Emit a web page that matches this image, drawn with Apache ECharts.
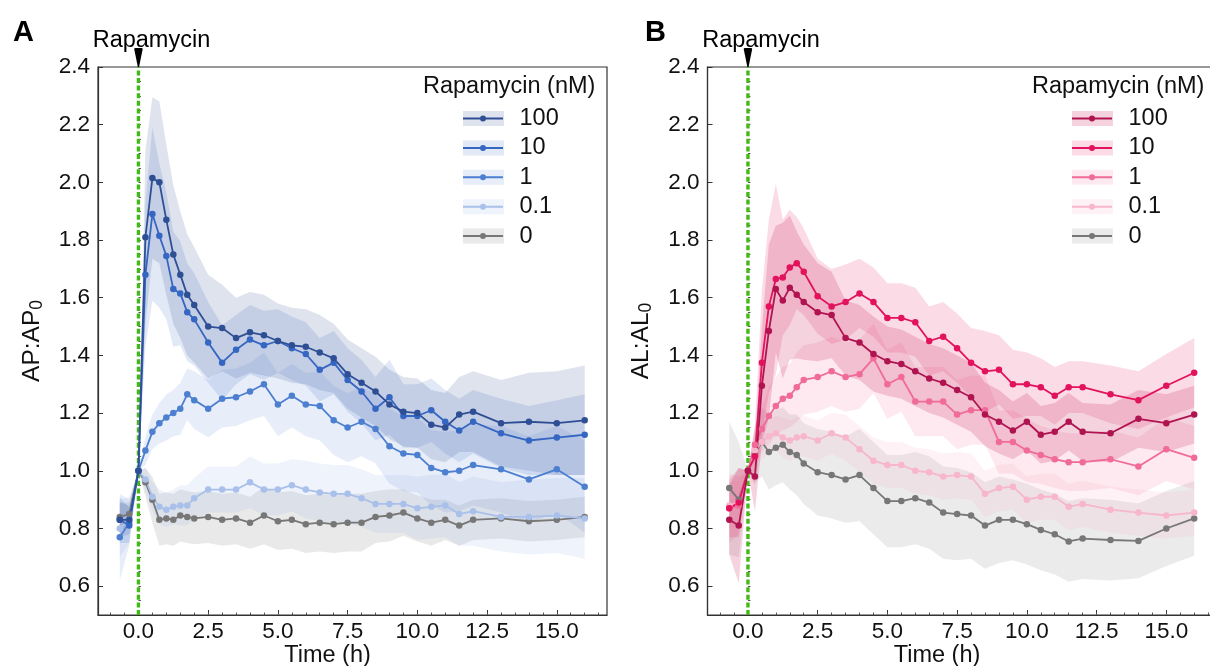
<!DOCTYPE html>
<html><head><meta charset="utf-8">
<script src="https://cdn.jsdelivr.net/npm/echarts@6/dist/echarts.min.js"></script>
<style>html,body{margin:0;padding:0;background:#fff}#c{width:1210px;height:666px}</style>
</head><body><div id="c"></div>
<script>
// ---------------- DATA ----------------
const time = [-0.67,-0.33,0,0.25,0.5,0.75,1,1.25,1.5,1.75,2,2.5,3,3.5,4,4.5,5,5.5,6,6.5,7,7.5,8,8.5,9,9.5,10,10.5,11,11.5,12,13,14,15,16];
const doses = ['100','10','1','0.1','0'];

// Panel A: AP:AP0 means
const apMean100 = [0.83,0.83,1.00,1.81,2.015,2.00,1.87,1.75,1.68,1.61,1.575,1.50,1.495,1.46,1.48,1.47,1.45,1.435,1.43,1.41,1.39,1.335,1.305,1.275,1.23,1.205,1.20,1.16,1.15,1.195,1.205,1.165,1.17,1.165,1.175];
const apMean10  = [0.83,0.81,1.00,1.68,1.89,1.815,1.745,1.63,1.615,1.55,1.525,1.445,1.375,1.42,1.455,1.435,1.45,1.425,1.405,1.35,1.375,1.315,1.275,1.215,1.255,1.19,1.19,1.21,1.17,1.14,1.17,1.13,1.105,1.115,1.125];
const apMean1   = [0.77,0.82,1.00,1.07,1.135,1.165,1.185,1.20,1.215,1.265,1.245,1.215,1.25,1.255,1.275,1.30,1.23,1.26,1.23,1.225,1.175,1.15,1.17,1.145,1.085,1.06,1.055,1.01,0.995,1.0,1.02,1.005,0.97,1.005,0.945];
const apMean01  = [0.80,0.83,1.00,0.97,0.91,0.875,0.865,0.875,0.88,0.88,0.905,0.935,0.935,0.935,0.96,0.935,0.935,0.95,0.935,0.925,0.92,0.92,0.905,0.885,0.885,0.885,0.87,0.875,0.88,0.85,0.86,0.84,0.84,0.845,0.835];
const apMean0   = [0.84,0.85,1.00,0.96,0.90,0.83,0.835,0.83,0.845,0.84,0.835,0.84,0.83,0.835,0.82,0.845,0.825,0.83,0.815,0.82,0.815,0.82,0.82,0.84,0.845,0.855,0.835,0.82,0.83,0.81,0.83,0.835,0.825,0.83,0.84];
// Panel A: band half-widths
const apCi100 = [0.06,0.05,0,0.3,0.28,0.28,0.26,0.24,0.22,0.21,0.2,0.18,0.15,0.14,0.14,0.14,0.13,0.13,0.13,0.13,0.12,0.12,0.12,0.12,0.12,0.12,0.12,0.12,0.12,0.13,0.14,0.15,0.17,0.18,0.19];
const apCi10  = [0.08,0.06,0,0.25,0.3,0.25,0.22,0.2,0.18,0.17,0.16,0.14,0.13,0.12,0.12,0.12,0.11,0.11,0.11,0.11,0.11,0.11,0.11,0.11,0.13,0.11,0.11,0.11,0.11,0.11,0.11,0.12,0.12,0.13,0.14];
const apCi1   = [0.15,0.08,0,0.05,0.06,0.07,0.08,0.08,0.09,0.09,0.1,0.1,0.1,0.1,0.1,0.11,0.11,0.11,0.11,0.12,0.12,0.12,0.12,0.12,0.13,0.13,0.13,0.13,0.14,0.14,0.14,0.15,0.15,0.15,0.16];
const apCi01  = [0.1,0.08,0,0.04,0.05,0.06,0.06,0.06,0.07,0.07,0.07,0.08,0.08,0.08,0.09,0.09,0.09,0.09,0.1,0.1,0.1,0.1,0.1,0.1,0.1,0.1,0.11,0.11,0.11,0.11,0.12,0.12,0.13,0.13,0.14];
const apCi0   = [0.05,0.04,0,0.05,0.08,0.09,0.09,0.09,0.09,0.09,0.09,0.09,0.09,0.09,0.09,0.1,0.1,0.1,0.1,0.1,0.1,0.1,0.1,0.09,0.09,0.08,0.08,0.08,0.07,0.07,0.07,0.07,0.07,0.07,0.07];

// Panel B: AL:AL0 means
const alMean100 = [0.83,0.81,1.00,0.98,1.295,1.485,1.63,1.59,1.635,1.61,1.585,1.55,1.54,1.46,1.445,1.405,1.38,1.37,1.345,1.32,1.305,1.28,1.255,1.195,1.17,1.14,1.17,1.125,1.135,1.17,1.135,1.13,1.18,1.165,1.195];
const alMean10  = [0.87,0.89,1.00,1.05,1.375,1.57,1.665,1.67,1.705,1.72,1.69,1.605,1.57,1.585,1.615,1.585,1.53,1.53,1.515,1.45,1.465,1.425,1.375,1.345,1.35,1.30,1.30,1.29,1.26,1.29,1.29,1.265,1.245,1.295,1.34];
const alMean1   = [0.87,0.88,1.00,1.09,1.145,1.19,1.225,1.25,1.26,1.29,1.315,1.325,1.345,1.325,1.335,1.39,1.30,1.325,1.24,1.24,1.24,1.195,1.21,1.21,1.10,1.10,1.07,1.055,1.04,1.03,1.03,1.04,1.015,1.075,1.045];
const alMean01  = [0.88,0.89,1.00,1.07,1.10,1.12,1.13,1.115,1.105,1.115,1.12,1.105,1.13,1.115,1.075,1.035,1.02,1.02,1.00,0.995,0.98,0.985,0.98,0.92,0.94,0.945,0.90,0.91,0.91,0.875,0.885,0.865,0.855,0.845,0.855];
const alMean0   = [0.94,0.90,1.00,1.06,1.10,1.065,1.08,1.09,1.065,1.055,1.025,0.995,0.985,0.97,0.985,0.94,0.895,0.895,0.905,0.89,0.855,0.85,0.845,0.81,0.83,0.83,0.815,0.795,0.78,0.755,0.765,0.76,0.757,0.80,0.835];
// Panel B: band half-widths
const alCi100 = [0.12,0.2,0,0.12,0.2,0.3,0.22,0.27,0.25,0.22,0.2,0.17,0.15,0.13,0.13,0.13,0.12,0.12,0.12,0.12,0.12,0.12,0.12,0.11,0.11,0.1,0.1,0.1,0.1,0.1,0.1,0.1,0.1,0.1,0.1];
const alCi10  = [0.1,0.12,0,0.1,0.25,0.3,0.33,0.2,0.2,0.16,0.15,0.13,0.13,0.13,0.12,0.12,0.12,0.12,0.12,0.12,0.12,0.12,0.12,0.14,0.12,0.12,0.11,0.1,0.1,0.09,0.09,0.1,0.1,0.11,0.12];
const alCi1   = [0.12,0.1,0,0.06,0.08,0.1,0.1,0.11,0.11,0.12,0.12,0.12,0.12,0.12,0.12,0.12,0.12,0.12,0.12,0.12,0.12,0.12,0.12,0.12,0.11,0.11,0.11,0.1,0.1,0.1,0.1,0.1,0.1,0.11,0.11];
const alCi01  = [0.08,0.08,0,0.05,0.06,0.06,0.06,0.07,0.07,0.07,0.07,0.07,0.07,0.08,0.08,0.08,0.08,0.08,0.08,0.08,0.08,0.08,0.08,0.08,0.08,0.08,0.08,0.08,0.08,0.08,0.08,0.08,0.08,0.08,0.08];
const alCi0   = [0.23,0.2,0,0.1,0.12,0.13,0.13,0.13,0.13,0.14,0.14,0.15,0.15,0.15,0.16,0.16,0.16,0.16,0.16,0.16,0.16,0.16,0.15,0.15,0.15,0.14,0.14,0.14,0.14,0.14,0.14,0.14,0.13,0.13,0.13];

// Tick labels / tick positions
const xTickLabels = [0, 2.5, 5, 7.5, 10, 12.5, 15];
const xMinorTicks = [-1,-0.5,0,0.5,1,1.5,2,2.5,3,3.5,4,4.5,5,5.5,6,6.5,7,7.5,8,8.5,9,9.5,10,10.5,11,11.5,12,12.5,13,13.5,14,14.5,15,15.5,16,16.5];
const yTickLabels = [0.6,0.8,1.0,1.2,1.4,1.6,1.8,2.0,2.2,2.4];
const yMinorTicks = [0.55,0.6,0.65,0.7,0.75,0.8,0.85,0.9,0.95,1.0,1.05,1.1,1.15,1.2,1.25,1.3,1.35,1.4,1.45,1.5,1.55,1.6,1.65,1.7,1.75,1.8,1.85,1.9,1.95,2.0,2.05,2.1,2.15,2.2,2.25,2.3,2.35];
const xRange = [-1.45, 16.8];
const yRange = [0.5, 2.4];
const treatmentTime = 0;

// ---------------- STYLE ----------------
const FONT = "'Liberation Sans', Arial, Helvetica, sans-serif";
const TXT = '#111';
const FS_TICK = 22.5, FS_TXT = 23.5;
const panels = [
  { key:'A', means:[apMean100,apMean10,apMean1,apMean01,apMean0], cis:[apCi100,apCi10,apCi1,apCi01,apCi0],
    lineColors:['#2f4f95','#3566c2','#4d7fd0','#a9c0ea','#777777'],
    bandColors:['rgba(47,79,149,0.16)','rgba(53,102,194,0.15)','rgba(77,127,208,0.13)','rgba(140,170,225,0.14)','rgba(120,120,120,0.16)'],
    yname:'{m|AP:AP}{s|0}', grid:{left:98, top:67, width:509, height:548},
    legendLeft:463, titleLeft:423, letterLeft:8 },
  { key:'B', means:[alMean100,alMean10,alMean1,alMean01,alMean0], cis:[alCi100,alCi10,alCi1,alCi01,alCi0],
    lineColors:['#b01450','#e2125c','#f06b98','#f7b6cb','#777777'],
    bandColors:['rgba(200,30,90,0.2)','rgba(230,40,100,0.17)','rgba(240,110,150,0.15)','rgba(247,170,195,0.15)','rgba(120,120,120,0.15)'],
    yname:'{m|AL:AL}{s|0}', grid:{left:707.5, top:67, width:509, height:548},
    legendLeft:1072, titleLeft:1032, letterLeft:640 }
];

const lineIcon = 'path://M20,0L20.01,0L20,0.01Z M20,15L20.01,15L20,14.99Z M0,6.5L40,6.5L40,8.5L0,8.5Z M23,7.5A3,3 0 1 1 17,7.5A3,3 0 1 1 23,7.5Z';
const wedge = 'path://M0,1.5Q0,0 1.5,0L8.5,0Q10,0 10,1.5L5.7,26L4.3,26Z';

const grids=[], xAxes=[], yAxes=[], series=[], legends=[], titles=[];

panels.forEach((p, gi) => {
  grids.push(Object.assign({show:true, borderColor:'#333', borderWidth:1.2, backgroundColor:'transparent',
    containLabel:false, outerBoundsMode:'none'}, p.grid));
  // main x
  xAxes.push({type:'value', gridIndex:gi, min:xRange[0], max:xRange[1],
    axisLine:{show:true, onZero:false, lineStyle:{color:'#333', width:1.2}},
    axisTick:{show:true, inside:true, length:5, customValues:xTickLabels, lineStyle:{color:'#333'}},
    axisLabel:{customValues:xTickLabels, formatter:v=>Number(v).toFixed(1), fontSize:FS_TICK, color:TXT, fontFamily:FONT, margin:5},
    splitLine:{show:false},
    name:'Time (h)', nameLocation:'middle', nameGap:29, nameMoveOverlap:false,
    nameTextStyle:{fontSize:FS_TXT, color:TXT, fontFamily:FONT, padding:[0,50,0,0]}});
  // minor x
  xAxes.push({type:'value', gridIndex:gi, min:xRange[0], max:xRange[1], position:'bottom',
    axisLine:{show:false}, axisLabel:{show:false}, splitLine:{show:false},
    axisTick:{show:true, inside:true, length:2.5, customValues:xMinorTicks, lineStyle:{color:'#555'}}});
  // main y
  yAxes.push({type:'value', gridIndex:gi, min:yRange[0], max:yRange[1],
    axisLine:{show:true, onZero:false, lineStyle:{color:'#333', width:1.2}},
    axisTick:{show:true, inside:true, length:5, customValues:yTickLabels, lineStyle:{color:'#333'}},
    axisLabel:{customValues:yTickLabels, formatter:v=>Number(v).toFixed(1), fontSize:FS_TICK, color:TXT, fontFamily:FONT, margin:8},
    splitLine:{show:false},
    name:p.yname, nameLocation:'middle', nameGap:52, nameRotate:90,
    nameTextStyle:{fontSize:FS_TXT, color:TXT, fontFamily:FONT,
      rich:{m:{fontSize:24.5, color:TXT, fontFamily:FONT, lineHeight:28, verticalAlign:'middle'},
            s:{fontSize:17.5, color:TXT, fontFamily:FONT, lineHeight:17, padding:[12,0,0,0], verticalAlign:'bottom'}}}});
  // minor y
  yAxes.push({type:'value', gridIndex:gi, min:yRange[0], max:yRange[1], position:'left',
    axisLine:{show:false}, axisLabel:{show:false}, splitLine:{show:false},
    axisTick:{show:true, inside:true, length:2.5, customValues:yMinorTicks, lineStyle:{color:'#555'}}});

  const xi = gi*2, yi = gi*2;
  // bands (draw 0 first, 100 last)
  for (let i = doses.length-1; i >= 0; i--) {
    const mean = p.means[i], ci = p.cis[i], col = p.bandColors[i];
    series.push({type:'custom', name:p.key+' band '+doses[i], xAxisIndex:xi, yAxisIndex:yi,
      data:[[0,1]], silent:true, z:1, itemStyle:{color:col}, animation:false,
      renderItem:(params, api) => {
        const up = time.map((t,k)=>api.coord([t, mean[k]+ci[k]]));
        const lo = time.map((t,k)=>api.coord([t, mean[k]-ci[k]])).reverse();
        return {type:'polygon', shape:{points:up.concat(lo)}, style:{fill:col}};
      }});
  }
  // treatment line
  series.push({type:'line', name:p.key+' treat', xAxisIndex:xi, yAxisIndex:yi,
    data:[[treatmentTime, yRange[0]],[treatmentTime, yRange[1]]], symbol:'none', silent:true, z:2,
    lineStyle:{color:'#44b81a', width:3.4, type:[5,2.6]}, animation:false});
  // mean lines
  for (let i = doses.length-1; i >= 0; i--) {
    const mean = p.means[i];
    series.push({type:'line', name:p.key+' '+doses[i], xAxisIndex:xi, yAxisIndex:yi,
      data:time.map((t,k)=>[t, mean[k]]), symbol:'circle', symbolSize:6.5, showSymbol:true,
      lineStyle:{color:p.lineColors[i], width:1.8}, itemStyle:{color:p.lineColors[i]}, z:3, animation:false});
  }
  // marker
  series.push({type:'scatter', name:p.key+' marker', xAxisIndex:xi, yAxisIndex:yi, clip:false, z:6,
    data:[[treatmentTime, yRange[1]]], symbol:wedge, symbolSize:[8.5,19], symbolOffset:[0,-9.5],
    itemStyle:{color:'#000', opacity:1}, silent:true, animation:false,
    label:{show:true, position:'top', distance:-5, offset:[13,0], formatter:'Rapamycin', fontSize:FS_TXT,
      color:'#000', opacity:1, textBorderWidth:0, fontFamily:FONT}});

  // legends
  const common = {orient:'vertical', left:p.legendLeft, top:106.5, itemWidth:41, itemHeight:15, itemGap:5.4,
    selectedMode:false, padding:0};
  legends.push(Object.assign({}, common, {icon:'rect', z:3,
    data:doses.map((d,i)=>({name:p.key+' band '+d, itemStyle:{color:p.bandColors[i], borderWidth:0}})),
    formatter:n=>n.split(' ').pop(),
    textStyle:{fontSize:FS_TXT, lineHeight:20, fontFamily:FONT, color:'rgba(0,0,0,0)', padding:[0,0,0,11]}}));
  legends.push(Object.assign({}, common, {icon:lineIcon, z:4,
    data:doses.map((d,i)=>({name:p.key+' '+d, itemStyle:{color:p.lineColors[i], borderWidth:0}, lineStyle:{width:0}})),
    formatter:n=>n.split(' ').pop(),
    textStyle:{fontSize:FS_TXT, lineHeight:20, fontFamily:FONT, color:TXT, padding:[0,0,0,11]}}));

  titles.push({text:p.key, left:p.letterLeft, top:13, textStyle:{fontSize:29, fontWeight:'bold', color:'#000', fontFamily:FONT}});
  titles.push({text:'Rapamycin (nM)', left:p.titleLeft, top:75, padding:0, textStyle:{fontSize:FS_TXT, fontWeight:'normal', color:TXT, fontFamily:FONT}});
});

const chart = echarts.init(document.getElementById('c'), null, {renderer:'canvas'});
chart.setOption({
  animation:false,
  backgroundColor:'#fff',
  textStyle:{fontFamily:FONT},
  title:titles, grid:grids, xAxis:xAxes, yAxis:yAxes, legend:legends, series:series
});
</script>
</body></html>
